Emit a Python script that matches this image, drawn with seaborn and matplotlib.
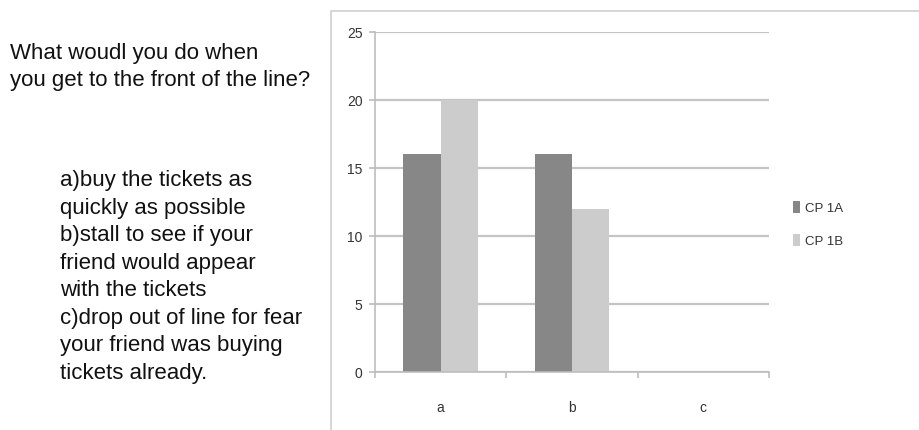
import matplotlib
matplotlib.use("Agg")
import matplotlib.pyplot as plt
from matplotlib.patches import Rectangle
import seaborn as sns
import pandas as pd

# Survey answers per option, for the two class periods
categories = ["a", "b", "c"]
cp_1a = [16, 16, 0]
cp_1b = [20, 12, 0]
series_names = ["CP 1A", "CP 1B"]
y_ticks = [0, 5, 10, 15, 20, 25]

question = "What woudl you do when\nyou get to the front of the line?"
options = ("a)buy the tickets as\nquickly as possible\nb)stall to see if your\n"
           "friend would appear\nwith the tickets\nc)drop out of line for fear\n"
           "your friend was buying\ntickets already.")

df = pd.DataFrame({
    "answer": categories * 2,
    "count": cp_1a + cp_1b,
    "group": [series_names[0]] * len(categories) + [series_names[1]] * len(categories),
})

sns.set_theme(style="white")
plt.rcParams["font.family"] = ["Liberation Sans", "DejaVu Sans"]
narrow = ["Liberation Sans Narrow", "Liberation Sans", "DejaVu Sans"]

W, H = 919, 431
fig = plt.figure(figsize=(W / 100, H / 100), dpi=100)

# chart frame (runs off the right and bottom edges)
fig.patches.append(Rectangle((331 / W, -0.05), 0.7, 1 - 12 / H + 0.05,
                             transform=fig.transFigure, fill=False,
                             edgecolor="#d0d0d0", linewidth=1.2))

ax = fig.add_axes([375 / W, 1 - 373 / H, (769 - 375) / W, (373 - 33) / H])
sns.barplot(data=df, x="answer", y="count", hue="group", ax=ax,
            palette=["#878787", "#cccccc"], width=0.57, gap=0,
            saturation=1, linewidth=0, legend=True)

ax.set_ylim(0, 25)
ax.set_xlim(-0.5, 2.5)
ax.set_yticks(y_ticks)
ax.set_yticklabels([str(t) for t in y_ticks], fontsize=10, color="#333333",
                   family=narrow)
ax.yaxis.grid(True, color="#c4c4c4", linewidth=1.6)
ax.set_axisbelow(True)
ax.set_xlabel("")
ax.set_ylabel("")

for s in ["top", "right"]:
    ax.spines[s].set_visible(False)
for s in ["left", "bottom"]:
    ax.spines[s].set_color("#bdbdbd")
    ax.spines[s].set_linewidth(1.2)

ax.tick_params(axis="y", which="major", left=True, length=4, width=1.2,
               color="#bdbdbd", pad=5)
ax.tick_params(axis="x", which="major", length=0, pad=20)
ax.set_xticks([-0.5, 0.5, 1.5, 2.5], minor=True)
ax.tick_params(axis="x", which="minor", bottom=True, length=4, width=1.2,
               color="#bdbdbd")
for lab in ax.get_xticklabels():
    lab.set_fontsize(10)
    lab.set_color("#333333")
    lab.set_family(narrow)

leg = ax.legend(loc="center left", bbox_to_anchor=(1.0, 0.435), frameon=False,
                prop={"family": narrow, "size": 9.5}, handlelength=0.55,
                handleheight=1.0, handletextpad=0.35, labelspacing=1.5,
                borderaxespad=1.4)
for t in leg.get_texts():
    t.set_color("#333333")

fig.text(10 / W, 1 - 43 / H, question, ha="left", va="top", fontsize=16,
         color="#111111", linespacing=1.4)
fig.text(60 / W, 1 - 170 / H, options, ha="left", va="top", fontsize=16,
         color="#111111", linespacing=1.41)

fig.savefig("out.png", dpi=100, facecolor="white")
